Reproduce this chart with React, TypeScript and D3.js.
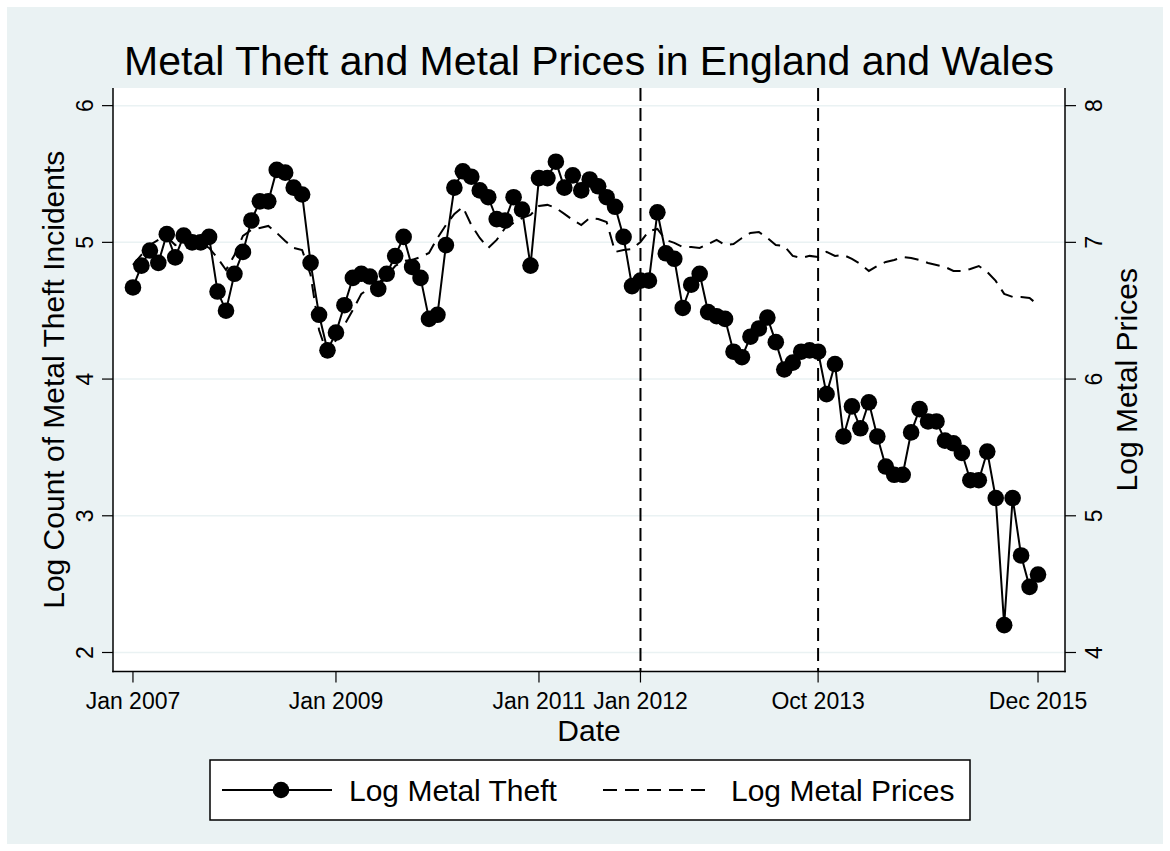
import React from "react";
import * as d3 from "d3";

// Monthly series, Jan 2007 .. Dec 2015 (108 months)
const theft: number[] = [
  4.67, 4.83, 4.94, 4.85, 5.06, 4.89, 5.05, 5.0, 5.0, 5.04, 4.64, 4.5,
  4.77, 4.93, 5.16, 5.3, 5.3, 5.53, 5.51, 5.4, 5.35, 4.85, 4.47, 4.21,
  4.34, 4.54, 4.74, 4.77, 4.75, 4.66, 4.77, 4.9, 5.04, 4.82, 4.74, 4.44,
  4.47, 4.98, 5.4, 5.52, 5.48, 5.38, 5.33, 5.17, 5.16, 5.33, 5.24, 4.83,
  5.47, 5.47, 5.59, 5.4, 5.49, 5.38, 5.46, 5.41, 5.33, 5.26, 5.04, 4.68,
  4.72, 4.72, 5.22, 4.92, 4.88, 4.52, 4.69, 4.77, 4.49, 4.46, 4.44, 4.2,
  4.16, 4.31, 4.37, 4.45, 4.27, 4.07, 4.12, 4.2, 4.21, 4.2, 3.89, 4.11,
  3.58, 3.8, 3.64, 3.83, 3.58, 3.36, 3.3, 3.3, 3.61, 3.78, 3.69, 3.69,
  3.55, 3.53, 3.46, 3.26, 3.26, 3.47, 3.13, 2.2, 3.13, 2.71, 2.48, 2.57,
];

const prices: number[] = [
  6.835, 6.908, 6.981, 7.018, 7.04, 6.98, 6.996, 7.003, 6.996, 6.959, 6.886, 6.798,
  6.908, 7.047, 7.091, 7.105, 7.12, 7.069, 7.01, 6.959, 6.944, 6.762, 6.359, 6.176,
  6.286, 6.396, 6.505, 6.623, 6.666, 6.703, 6.754, 6.827, 6.864, 6.871, 6.893, 6.922,
  7.032, 7.127, 7.208, 7.259, 7.127, 7.032, 6.959, 7.018, 7.105, 7.142, 7.178, 7.2,
  7.266, 7.274, 7.252, 7.208, 7.164, 7.127, 7.178, 7.171, 7.149, 6.93, 6.944, 6.952,
  7.003, 7.083, 7.098, 7.018, 6.996, 6.966, 6.966, 6.959, 6.988, 7.018, 6.981, 6.988,
  7.032, 7.069, 7.076, 7.032, 6.981, 6.974, 6.901, 6.886, 6.901, 6.893, 6.93, 6.901,
  6.908, 6.879, 6.842, 6.791, 6.827, 6.857, 6.871, 6.893, 6.886, 6.871, 6.849, 6.835,
  6.82, 6.791, 6.791, 6.805, 6.827, 6.783, 6.718, 6.623, 6.601, 6.601, 6.593, 6.542,
];

const xTickPositions: number[] = [0, 24, 48, 60, 81, 107];
const xTickLabels: string[] = ["Jan 2007", "Jan 2009", "Jan 2011", "Jan 2012", "Oct 2013", "Dec 2015"];
const eventMonths: number[] = [60, 81];
const leftTicks: number[] = [2, 3, 4, 5, 6];
const rightTicks: number[] = [4, 5, 6, 7, 8];

const W = 1170;
const H = 851;
const BG = "#EAF2F3";
const FONT = "'Liberation Sans', Arial, Helvetica, sans-serif";

export default function App() {
  const left = 113, right = 1065, top = 88, bottom = 671.5;
  const x = d3.scaleLinear().domain([-2.36, 110.19]).range([left, right]);
  const yL = d3.scaleLinear().domain([1.861, 6.129]).range([bottom, top]);
  const yR = d3.scaleLinear().domain([3.861, 8.129]).range([bottom, top]);

  const theftLine = d3.line<number>().x((_, i) => x(i)).y((d) => yL(d))(theft) || "";
  const priceLine = d3.line<number>().x((_, i) => x(i)).y((d) => yR(d))(prices) || "";

  return (
    <div style={{ position: "absolute", left: 0, top: 0 }}>
      <svg width={W} height={H} style={{ display: "block", fontFamily: FONT }}>
        <rect x={0} y={0} width={W} height={H} fill="#ffffff" />
        <rect x={7} y={7} width={W - 14} height={H - 14} fill={BG} />
        <rect x={left} y={top} width={right - left} height={bottom - top} fill="#ffffff" />

        {/* gridlines */}
        {leftTicks.map((t) => (
          <line key={"g" + t} x1={left} x2={right} y1={yL(t)} y2={yL(t)} stroke={BG} strokeWidth={1.5} />
        ))}

        {/* event lines */}
        {eventMonths.map((m) => (
          <line key={"e" + m} x1={x(m)} x2={x(m)} y1={top} y2={bottom} stroke="#000" strokeWidth={2} strokeDasharray="13 7" />
        ))}

        {/* price line */}
        <path d={priceLine} fill="none" stroke="#000" strokeWidth={2} strokeDasharray="14 8" />

        {/* theft line + markers */}
        <path d={theftLine} fill="none" stroke="#000" strokeWidth={2} />
        {theft.map((d, i) => (
          <circle key={"c" + i} cx={x(i)} cy={yL(d)} r={8.3} fill="#000" />
        ))}

        {/* axes */}
        <line x1={left} x2={left} y1={top} y2={bottom + 0.75} stroke="#000" strokeWidth={1.5} />
        <line x1={right} x2={right} y1={top} y2={bottom + 0.75} stroke="#000" strokeWidth={1.5} />
        <line x1={left - 0.75} x2={right + 0.75} y1={bottom} y2={bottom} stroke="#000" strokeWidth={1.5} />

        {leftTicks.map((t) => (
          <g key={"lt" + t}>
            <line x1={left - 11} x2={left} y1={yL(t)} y2={yL(t)} stroke="#000" strokeWidth={1.2} />
            <text transform={`translate(${left - 20},${yL(t)}) rotate(-90)`} textAnchor="middle" fontSize={23} fill="#000">
              {t}
            </text>
          </g>
        ))}
        {rightTicks.map((t) => (
          <g key={"rt" + t}>
            <line x1={right} x2={right + 11} y1={yR(t)} y2={yR(t)} stroke="#000" strokeWidth={1.2} />
            <text transform={`translate(${right + 37},${yR(t)}) rotate(-90)`} textAnchor="middle" fontSize={23} fill="#000">
              {t}
            </text>
          </g>
        ))}
        {xTickPositions.map((p, i) => (
          <g key={"xt" + p}>
            <line x1={x(p)} x2={x(p)} y1={bottom} y2={bottom + 11} stroke="#000" strokeWidth={1.2} />
            <text x={x(p)} y={709} textAnchor="middle" fontSize={23} fill="#000">
              {xTickLabels[i]}
            </text>
          </g>
        ))}

        {/* axis titles */}
        <text x={(left + right) / 2} y={741} textAnchor="middle" fontSize={30} fill="#000">Date</text>
        <text transform={`translate(64,${(top + bottom) / 2}) rotate(-90)`} textAnchor="middle" fontSize={30} fill="#000">
          Log Count of Metal Theft Incidents
        </text>
        <text transform={`translate(1137,${(top + bottom) / 2}) rotate(-90)`} textAnchor="middle" fontSize={30} fill="#000">
          Log Metal Prices
        </text>

        {/* title */}
        <text x={589} y={75} textAnchor="middle" fontSize={41} fill="#000">
          Metal Theft and Metal Prices in England and Wales
        </text>

        {/* legend */}
        <rect x={210} y={760} width={760} height={60} fill="#fff" stroke="#000" strokeWidth={1.5} />
        <line x1={222} x2={332} y1={790} y2={790} stroke="#000" strokeWidth={2} />
        <circle cx={281} cy={790} r={8.3} fill="#000" />
        <text x={349} y={801} fontSize={30} fill="#000">Log Metal Theft</text>
        <line x1={603} x2={712} y1={790} y2={790} stroke="#000" strokeWidth={2} strokeDasharray="14 8" />
        <text x={731} y={801} fontSize={30} fill="#000">Log Metal Prices</text>
      </svg>
    </div>
  );
}
